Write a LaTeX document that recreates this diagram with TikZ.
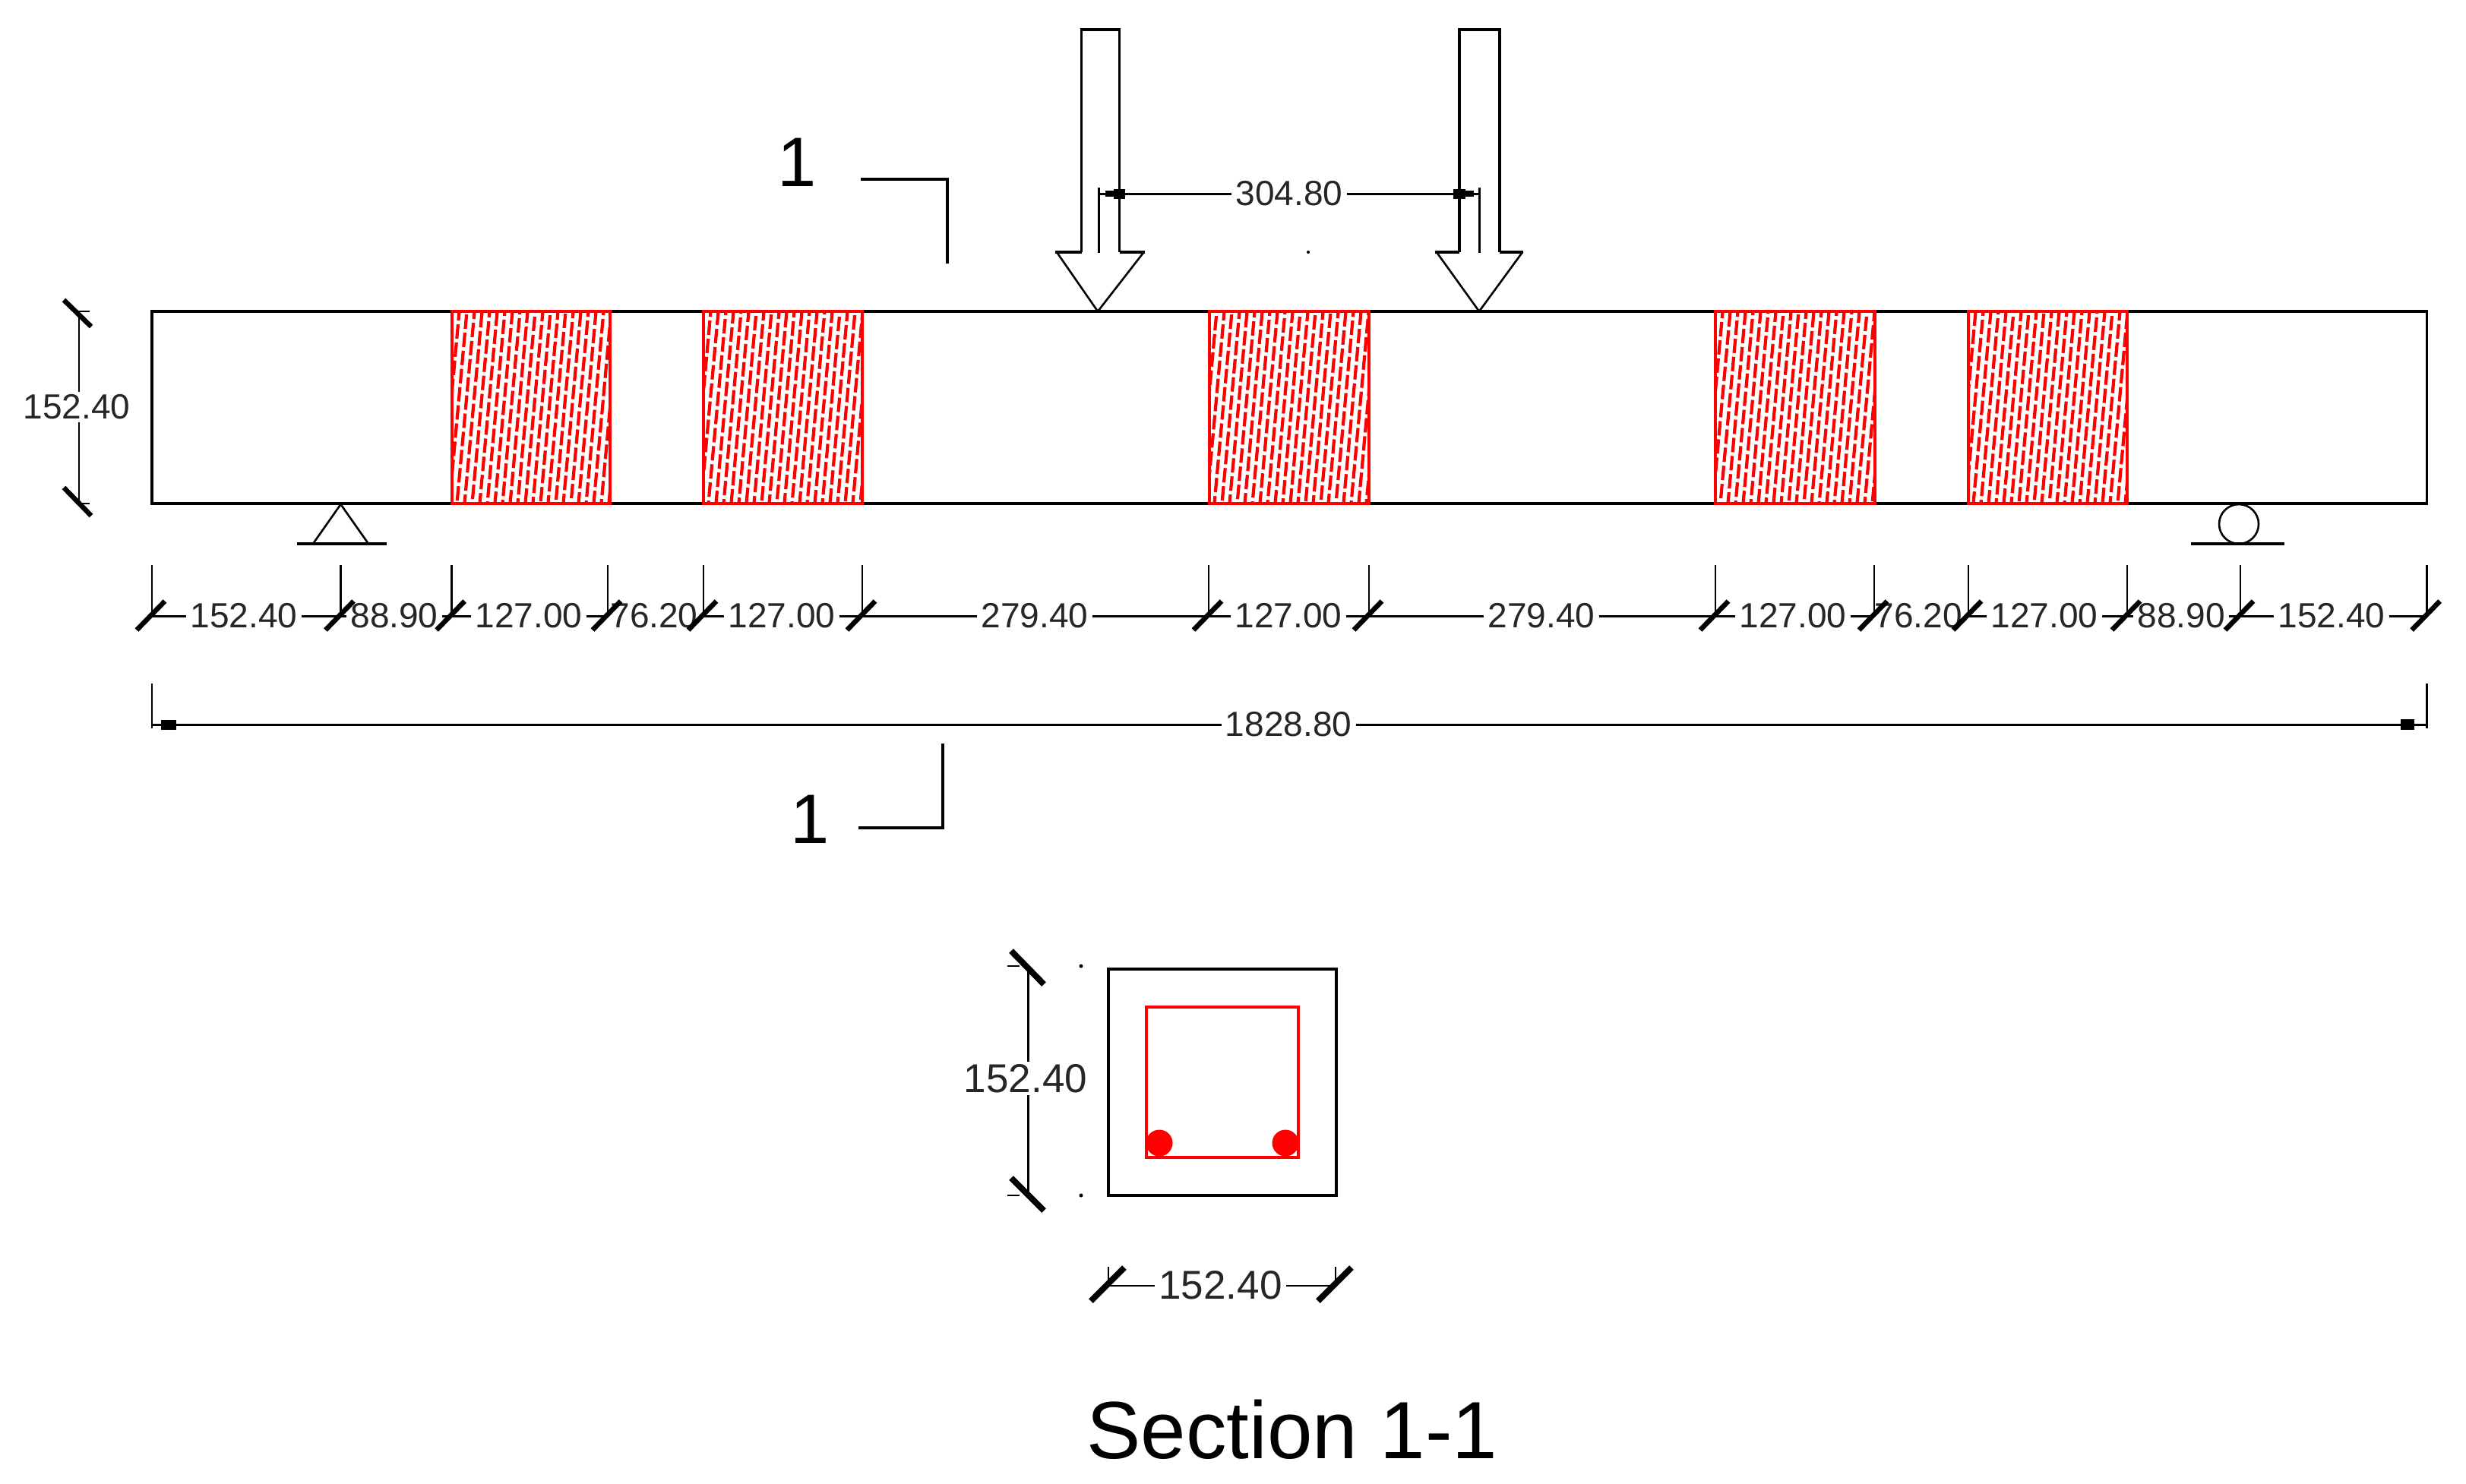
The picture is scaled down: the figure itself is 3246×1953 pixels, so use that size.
\documentclass[tikz,border=0pt]{standalone}
\usepackage{fontspec}
\setmainfont{Liberation Sans}
\definecolor{barred}{RGB}{255,0,0}
\newcommand{\hatchpatch}[3]{%
  \begin{scope}
    \clip (#1,410) rectangle (#2,663);
    \pgfmathtruncatemacro{\xend}{#2+25}
    \pgfmathtruncatemacro{\xsec}{#1+10}
    \foreach \xk [count=\k] in {#1,\xsec,...,\xend}{
      \pgfmathsetmacro{\ph}{mod(\k*37+#3,24)*0.01}
      \draw[hatchline,dash phase=\ph cm] (\xk,405) -- ({\xk-24},668);
    }
  \end{scope}
  \draw[patchframe] (#1,410) rectangle (#2,663);
}
\tikzset{
  beamline/.style={draw=black,line width=0.035cm},
  dimline/.style={draw=black,line width=0.03cm},
  thinline/.style={draw=black,line width=0.026cm},
  ticka/.style={draw=black,line width=0.065cm},
  hatchline/.style={draw=barred,line width=0.042cm,dash pattern=on 0.19cm off 0.05cm},
  patchframe/.style={draw=barred,line width=0.045cm},
  dimlabel/.style={font=\fontsize{13.09}{15}\selectfont,text=black!85,fill=white,inner xsep=1.5pt,inner ysep=1pt},
  dimlabelbig/.style={font=\fontsize{15.08}{17}\selectfont,text=black!85,fill=white,inner xsep=1.5pt,inner ysep=1pt},
  cutlabel/.style={font=\fontsize{26.2}{30}\selectfont,text=black,inner sep=0pt},
  blob/.style={fill=black,draw=none},
}
\begin{document}
\begin{tikzpicture}[x=0.01cm,y=-0.01cm]
\useasboundingbox (0,0) rectangle (3246,1953);
\fill[white] (0,0) rectangle (3246,1953);

% beam
\draw[beamline,fill=white] (200,410) rectangle (3194.6,663);
\hatchpatch{595}{803}{0}
\hatchpatch{926}{1135}{5}
\hatchpatch{1592}{1802}{11}
\hatchpatch{2258}{2468}{3}
\hatchpatch{2591}{2800}{17}

% load arrows
\coordinate (tipA) at (1445,410);
\coordinate (tipB) at (1947,410);
\draw[beamline,line join=miter] (1423.5,332) -- (1423.5,39) -- (1473.5,39) -- (1473.5,332);
\draw[beamline] (1389,332) -- (1423.5,332) (1473.5,332) -- (1507,332);
\draw[thinline] (1391,332) -- (tipA) -- (1505.6,332);
\draw[beamline,line join=miter] (1921,332) -- (1921,39) -- (1974,39) -- (1974,332);
\draw[beamline] (1889,332) -- (1921,332) (1974,332) -- (2005,332);
\draw[thinline] (1891,332) -- (tipB) -- (2004,332);

% top dimension
\coordinate (tdA) at (1446.5,255.5);
\coordinate (tdB) at (1947.5,255.5);
\draw[thinline] (1446.5,247) -- (1446.5,333);
\draw[thinline] (1947.5,247) -- (1947.5,333);
\draw[dimline] (tdA) -- (tdB);
\fill[blob] (1466,248.5) rectangle (1481,261.5);
\fill[blob] (1455,251) rectangle (1468,258.5);
\fill[blob] (1913,248.5) rectangle (1929,261.5);
\fill[blob] (1928,251) rectangle (1940,258.5);
\node[dimlabel] (lblTop) at (1697,255) {304.80};
\fill[black] (1722,332) circle (2);

% supports
\draw[thinline,line join=miter] (412,716) -- (448.5,664) -- (485,716);
\draw[beamline] (391,716) -- (509,716);
\draw[thinline] (2947,690) circle (26);
\draw[beamline] (2884,716) -- (3007,716);

% chain dimension: line, labels, then extension lines and ticks on top
\foreach \xx [count=\i] in {200,448.5,594.6,800,926,1135,1591,1802,2258,2467,2591,2800,2949,3194.6}{
  \coordinate (et\i) at (\xx,744);
  \coordinate (eb\i) at (\xx,811.5);
}
\draw[dimline] (eb1) -- (eb14);
\foreach \lx/\txt/\nm in {321/152.40/a,519/88.90/b,696/127.00/c,861/76.20/d,1029/127.00/e,1362/279.40/f,1696/127.00/g,2029/279.40/h,2360/127.00/i,2525/76.20/j,2691/127.00/k,2871/88.90/l,3069/152.40/m}{
  \node[dimlabel] (chain\nm) at (\lx,811) {\txt};
}
\foreach \xx [count=\i] in {200,448.5,594.6,800,926,1135,1591,1802,2258,2467,2591,2800,2949,3194.6}{
  \draw[thinline] (et\i) -- (eb\i);
  \draw[ticka] ({\xx-20},829.5) -- ({\xx+17},791.5);
}

% overall dimension
\coordinate (ovA) at (200,954.5);
\coordinate (ovB) at (3194.6,954.5);
\draw[thinline] (200,900) -- (200,959);
\draw[thinline] (3194.6,900) -- (3194.6,959);
\draw[beamline] (ovA) -- (ovB);
\fill[blob] (212,948) rectangle (232,961);
\fill[blob] (3160,947) rectangle (3178,961);
\node[dimlabel] (lblOverall) at (1696,954) {1828.80};

% beam depth dimension
\coordinate (vdA) at (104,411);
\coordinate (vdB) at (104,662);
\draw[thinline] (vdA) -- (vdB);
\node[dimlabel] (lblDepth) at (101,536) {152.40};
\draw[ticka] (84,395) -- (120,430);
\draw[ticka] (84,642) -- (120,679);
\draw[thinline] (100,410) -- (118,410);
\draw[thinline] (100,663) -- (118,663);

% section cut marks
\node[cutlabel] (cutTop) at (1049,214) {1};
\node[cutlabel] (cutBot) at (1066,1079) {1};
\draw[beamline,line join=miter] (1133,236) -- (1247,236) -- (1247,347);
\draw[beamline,line join=miter] (1130,1090) -- (1241,1090) -- (1241,979);

% cross section
\draw[beamline,line width=0.04cm] (1459,1276) rectangle (1759,1574);
\draw[patchframe,line width=0.032cm] (1509,1326) rectangle (1709,1524);
\fill[barred] (1526,1505) circle (17.5);
\fill[barred] (1692,1505) circle (17.5);

% section dims
\coordinate (sdA) at (1353.6,1272);
\coordinate (sdB) at (1353.6,1573);
\draw[thinline] (sdA) -- (sdB);
\node[dimlabelbig] (lblSecV) at (1350,1420) {152.40};
\draw[ticka,line width=0.08cm] (1331,1252) -- (1374,1296);
\draw[ticka,line width=0.08cm] (1331,1551) -- (1374,1594);
\draw[thinline] (1326,1272) -- (1342,1272);
\draw[thinline] (1326,1574) -- (1342,1574);
\fill[black] (1423,1272) circle (2.5);
\fill[black] (1423,1574) circle (2.5);

\coordinate (shA) at (1459,1693);
\coordinate (shB) at (1758,1693);
\draw[thinline] (1459,1668) -- (shA) -- (shB) -- (1758,1668);
\node[dimlabelbig] (lblSecH) at (1606.5,1692) {152.40};
\draw[ticka,line width=0.08cm] (1436,1713) -- (1480,1669);
\draw[ticka,line width=0.08cm] (1735,1713) -- (1779,1669);

\node[font=\fontsize{30.4}{34}\selectfont,inner sep=0pt,anchor=base] (title) at (1701,1920) {Section 1-1};
\end{tikzpicture}
\end{document}
